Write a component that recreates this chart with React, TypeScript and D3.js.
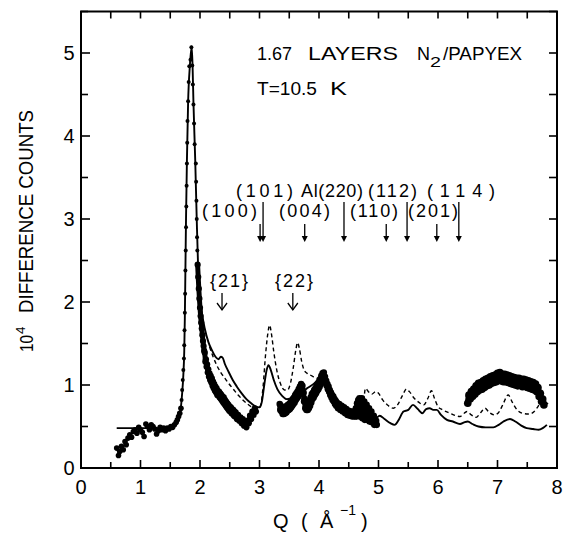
import React from 'react';
import * as d3 from 'd3';

// ---------- data ----------
const xTickLabels = [0, 1, 2, 3, 4, 5, 6, 7, 8];
const yTickLabels = [0, 1, 2, 3, 4, 5];

// solid calculated curve [Q, counts]
const fitSolid: [number, number][] = [
  [0.6, 0.48], [1.0, 0.48], [1.4, 0.48], [1.5, 0.49], [1.56, 0.51], [1.6, 0.54], [1.63, 0.58],
  [1.66, 0.66], [1.68, 0.74], [1.7, 0.9], [1.72, 1.12], [1.735, 1.4], [1.745, 1.8], [1.755, 2.4],
  [1.765, 3.0], [1.78, 3.7], [1.8, 4.4], [1.83, 4.85], [1.86, 5.08], [1.875, 4.85], [1.89, 4.4],
  [1.92, 3.7], [1.945, 3.0], [1.965, 2.5], [1.99, 2.15], [2.03, 1.88], [2.08, 1.68], [2.14, 1.52],
  [2.2, 1.42], [2.26, 1.34], [2.31, 1.31], [2.35, 1.34], [2.38, 1.33], [2.42, 1.25], [2.48, 1.16],
  [2.55, 1.06], [2.62, 0.98], [2.7, 0.9], [2.78, 0.83], [2.86, 0.78], [2.94, 0.74], [3.0, 0.73],
  [3.04, 0.8], [3.08, 1.0], [3.12, 1.18], [3.15, 1.24], [3.19, 1.18], [3.24, 1.06], [3.3, 0.95],
  [3.38, 0.87], [3.46, 0.83], [3.55, 0.84], [3.63, 0.87], [3.72, 0.92], [3.82, 0.97], [3.92, 1.02],
  [4.0, 1.08], [4.06, 1.14], [4.1, 1.08], [4.16, 0.98], [4.24, 0.88], [4.35, 0.78], [4.48, 0.7],
  [4.62, 0.64], [4.75, 0.6], [4.88, 0.58], [4.96, 0.6], [5.02, 0.63], [5.1, 0.59], [5.2, 0.54],
  [5.27, 0.52], [5.34, 0.58], [5.42, 0.68], [5.5, 0.7], [5.58, 0.76], [5.66, 0.71], [5.74, 0.66],
  [5.8, 0.71], [5.86, 0.72], [5.92, 0.7], [5.98, 0.7], [6.05, 0.64], [6.15, 0.58], [6.25, 0.56],
  [6.37, 0.53], [6.44, 0.55], [6.5, 0.56], [6.58, 0.53], [6.68, 0.5], [6.8, 0.49], [6.93, 0.49],
  [7.02, 0.52], [7.1, 0.56], [7.21, 0.59], [7.3, 0.56], [7.4, 0.51], [7.49, 0.48], [7.6, 0.47],
  [7.69, 0.46], [7.76, 0.48], [7.83, 0.52],
];

// dashed calculated curve
const fitDashed: [number, number][] = [
  [2.16, 1.46], [2.22, 1.34], [2.28, 1.24], [2.35, 1.15], [2.42, 1.08], [2.48, 1.02], [2.56, 0.95],
  [2.64, 0.88], [2.72, 0.82], [2.8, 0.77], [2.88, 0.73], [2.96, 0.71], [3.02, 0.76], [3.06, 0.98],
  [3.1, 1.35], [3.14, 1.62], [3.17, 1.72], [3.2, 1.62], [3.24, 1.4], [3.29, 1.18], [3.35, 1.02],
  [3.42, 0.94], [3.47, 0.94], [3.52, 1.02], [3.57, 1.22], [3.61, 1.42], [3.64, 1.51], [3.67, 1.44],
  [3.71, 1.28], [3.75, 1.18], [3.8, 1.14], [3.88, 1.11], [3.96, 1.08], [4.02, 1.1], [4.06, 1.13],
  [4.1, 1.07], [4.16, 0.97], [4.24, 0.87], [4.35, 0.78], [4.48, 0.71], [4.6, 0.67], [4.7, 0.68],
  [4.75, 0.8], [4.78, 0.96], [4.83, 0.92], [4.89, 0.89], [4.95, 0.92], [5.0, 0.9], [5.07, 0.82],
  [5.15, 0.76], [5.25, 0.72], [5.32, 0.76], [5.4, 0.87], [5.47, 0.95], [5.52, 0.92], [5.6, 0.84],
  [5.68, 0.79], [5.76, 0.76], [5.83, 0.84], [5.89, 0.93], [5.94, 0.84], [6.0, 0.74], [6.08, 0.7],
  [6.2, 0.66], [6.3, 0.63], [6.37, 0.62], [6.44, 0.66], [6.49, 0.68], [6.56, 0.64], [6.64, 0.61],
  [6.72, 0.67], [6.79, 0.72], [6.86, 0.67], [6.95, 0.64], [7.03, 0.68], [7.1, 0.78], [7.18, 0.88],
  [7.25, 0.79], [7.33, 0.7], [7.42, 0.66], [7.52, 0.65], [7.6, 0.67], [7.68, 0.74], [7.76, 0.82],
  [7.8, 0.8], [7.85, 0.77],
];

// measured points: low-Q plateau and main peak
const dataLow: [number, number][] = [
  [0.6, 0.24], [0.63, 0.15], [0.65, 0.2], [0.68, 0.26], [0.71, 0.22], [0.74, 0.32], [0.76, 0.28],
  [0.79, 0.36], [0.82, 0.4], [0.85, 0.37], [0.88, 0.44], [0.91, 0.46], [0.94, 0.42], [0.97, 0.49],
  [1.0, 0.46], [1.03, 0.43], [1.06, 0.38], [1.09, 0.53], [1.12, 0.5], [1.15, 0.46], [1.18, 0.52],
  [1.21, 0.5], [1.24, 0.47], [1.27, 0.41], [1.3, 0.45], [1.33, 0.49], [1.36, 0.46], [1.39, 0.48],
  [1.42, 0.45], [1.45, 0.48], [1.48, 0.47], [1.51, 0.5], [1.54, 0.49], [1.57, 0.52], [1.6, 0.55],
  [1.62, 0.58], [1.64, 0.62], [1.66, 0.66], [1.68, 0.72],
];
const dataPeak: [number, number][] = [
  [1.69, 0.82], [1.7, 0.94], [1.71, 1.06], [1.72, 1.18], [1.73, 1.32], [1.735, 1.48], [1.74, 1.66],
  [1.745, 1.87], [1.75, 2.1], [1.755, 2.38], [1.76, 2.62], [1.765, 2.9], [1.77, 3.15], [1.775, 3.4],
  [1.78, 3.67], [1.785, 3.92], [1.79, 4.18], [1.8, 4.42], [1.81, 4.65], [1.82, 4.84], [1.84, 4.92],
  [1.855, 5.07], [1.87, 4.85], [1.88, 4.62], [1.89, 4.38], [1.9, 4.15], [1.91, 3.9], [1.93, 3.67],
  [1.935, 3.45], [1.94, 3.22], [1.945, 3.0], [1.95, 2.78], [1.955, 2.62],
];
// dense measured bands
const dataBand1: [number, number][] = [
  [1.96, 2.45], [1.97, 2.3], [1.98, 2.16], [1.99, 2.04], [2.0, 1.93], [2.01, 1.83], [2.02, 1.75],
  [2.03, 1.68], [2.04, 1.6], [2.05, 1.53], [2.06, 1.47], [2.07, 1.41], [2.08, 1.39], [2.09, 1.28],
  [2.1, 1.31], [2.11, 1.22], [2.12, 1.25], [2.13, 1.15], [2.14, 1.19], [2.15, 1.1], [2.16, 1.14],
  [2.17, 1.06], [2.18, 1.11], [2.19, 1.03], [2.2, 1.08], [2.21, 0.99], [2.22, 1.04], [2.23, 0.96],
  [2.24, 1.01], [2.25, 0.93], [2.26, 0.98], [2.27, 0.91], [2.28, 0.96], [2.29, 0.88], [2.3, 0.93],
  [2.31, 0.87], [2.32, 0.92], [2.33, 0.85], [2.34, 0.9], [2.35, 0.83], [2.36, 0.88], [2.37, 0.81],
  [2.38, 0.86], [2.39, 0.79], [2.4, 0.85], [2.41, 0.77], [2.42, 0.82], [2.43, 0.75], [2.44, 0.8],
  [2.45, 0.73], [2.46, 0.78], [2.47, 0.71], [2.48, 0.76], [2.49, 0.69], [2.5, 0.74], [2.51, 0.68],
  [2.52, 0.73], [2.53, 0.66], [2.54, 0.71], [2.55, 0.65], [2.56, 0.7], [2.57, 0.63], [2.58, 0.68],
  [2.59, 0.62], [2.6, 0.67], [2.62, 0.59], [2.64, 0.64], [2.66, 0.57], [2.68, 0.61], [2.7, 0.54],
  [2.72, 0.59], [2.74, 0.51], [2.76, 0.56], [2.78, 0.49], [2.8, 0.57], [2.82, 0.54], [2.84, 0.63],
  [2.86, 0.59], [2.88, 0.68], [2.9, 0.64], [2.92, 0.72], [2.94, 0.68],
];
const dataBand2: [number, number][] = [
  [3.34, 0.77], [3.35, 0.7], [3.36, 0.75], [3.37, 0.68], [3.38, 0.72], [3.39, 0.65], [3.4, 0.71],
  [3.41, 0.65], [3.42, 0.72], [3.43, 0.66], [3.44, 0.73], [3.45, 0.67], [3.46, 0.75], [3.47, 0.69],
  [3.48, 0.76], [3.49, 0.7], [3.5, 0.77], [3.51, 0.71], [3.52, 0.79], [3.53, 0.73], [3.54, 0.81],
  [3.55, 0.75], [3.56, 0.83], [3.57, 0.77], [3.58, 0.85], [3.59, 0.79], [3.6, 0.88], [3.61, 0.82],
  [3.62, 0.9], [3.63, 0.84], [3.64, 0.92], [3.65, 0.86], [3.66, 0.95], [3.67, 0.89], [3.68, 0.98],
  [3.69, 0.92], [3.7, 1.01], [3.71, 0.95], [3.72, 0.99], [3.73, 0.9], [3.74, 0.91], [3.75, 0.8],
  [3.76, 0.83], [3.77, 0.72], [3.78, 0.77], [3.79, 0.7], [3.8, 0.76], [3.81, 0.7], [3.82, 0.77],
  [3.83, 0.72], [3.84, 0.81], [3.85, 0.75], [3.86, 0.85], [3.87, 0.79], [3.88, 0.89], [3.89, 0.83],
  [3.9, 0.91], [3.91, 0.85], [3.92, 0.94], [3.93, 0.88], [3.94, 0.96], [3.95, 0.9], [3.96, 0.99],
  [3.97, 0.93], [3.98, 1.01], [3.99, 0.95], [4.0, 1.04], [4.01, 0.98], [4.02, 1.07], [4.03, 1.01],
  [4.04, 1.11], [4.05, 1.05], [4.06, 1.14], [4.07, 1.08], [4.08, 1.15], [4.09, 1.09], [4.1, 1.1],
  [4.11, 1.04], [4.12, 1.05], [4.13, 0.99], [4.14, 1.01], [4.15, 0.95], [4.16, 0.98], [4.17, 0.92],
  [4.18, 0.94], [4.19, 0.88], [4.2, 0.91], [4.21, 0.85], [4.22, 0.88], [4.23, 0.82], [4.24, 0.86],
  [4.25, 0.8], [4.26, 0.83], [4.27, 0.77], [4.28, 0.81], [4.29, 0.75], [4.3, 0.79], [4.32, 0.72],
  [4.34, 0.77], [4.36, 0.7], [4.38, 0.75], [4.4, 0.68], [4.42, 0.73], [4.44, 0.66], [4.46, 0.71],
  [4.48, 0.64], [4.5, 0.69], [4.52, 0.63], [4.54, 0.68], [4.56, 0.62], [4.58, 0.68], [4.6, 0.62],
  [4.62, 0.72], [4.63, 0.62], [4.64, 0.78], [4.65, 0.66], [4.66, 0.82], [4.67, 0.7], [4.68, 0.84],
  [4.69, 0.62], [4.7, 0.76], [4.71, 0.66], [4.72, 0.84], [4.73, 0.6], [4.74, 0.74], [4.75, 0.64],
  [4.76, 0.8], [4.77, 0.58], [4.78, 0.7], [4.79, 0.64], [4.8, 0.76], [4.81, 0.58], [4.82, 0.68],
  [4.83, 0.62], [4.84, 0.72], [4.85, 0.56], [4.86, 0.66], [4.87, 0.6], [4.88, 0.68], [4.89, 0.55],
  [4.9, 0.62], [4.91, 0.57], [4.92, 0.63], [4.93, 0.52], [4.94, 0.58], [4.95, 0.54], [4.96, 0.57],
  [4.97, 0.52],
];
const dataBand3: [number, number][] = [
  [6.5, 0.78], [6.52, 0.88], [6.54, 0.83], [6.56, 0.92], [6.58, 0.86], [6.6, 0.95], [6.62, 0.89],
  [6.64, 0.99], [6.66, 0.92], [6.68, 1.02], [6.7, 0.94], [6.72, 1.03], [6.74, 0.95], [6.76, 1.05],
  [6.78, 0.97], [6.8, 1.07], [6.82, 0.99], [6.84, 1.08], [6.86, 1.0], [6.88, 1.1], [6.9, 1.02],
  [6.92, 1.11], [6.94, 1.03], [6.96, 1.12], [6.98, 1.04], [7.0, 1.14], [7.02, 1.06], [7.04, 1.15],
  [7.06, 1.05], [7.08, 1.13], [7.1, 1.04], [7.12, 1.13], [7.14, 1.04], [7.16, 1.12], [7.18, 1.03],
  [7.2, 1.11], [7.22, 1.02], [7.24, 1.1], [7.26, 1.01], [7.28, 1.09], [7.3, 1.0], [7.32, 1.08],
  [7.34, 0.99], [7.36, 1.08], [7.38, 1.0], [7.4, 1.07], [7.42, 0.98], [7.44, 1.07], [7.46, 0.99],
  [7.48, 1.06], [7.5, 0.97], [7.52, 1.05], [7.54, 0.96], [7.56, 1.04], [7.58, 0.95], [7.6, 1.03],
  [7.62, 0.94], [7.64, 1.01], [7.66, 0.92], [7.68, 0.97], [7.7, 0.86], [7.72, 0.9], [7.74, 0.8],
  [7.76, 0.83], [7.78, 0.76],
];

// Bragg reflections (Q positions of arrows)
const reflectionLabels = ['(100)', '(101)', '(004)', 'Al(220)', '(110)', '(112)', '(201)', '(114)'];
const reflectionQ = [3.01, 3.06, 3.76, 4.42, 5.13, 5.48, 5.98, 6.35];
const reflectionLong = [false, true, false, true, false, true, false, true];
const rodLabels = ['{21}', '{22}'];
const rodQ = [2.37, 3.56];

// ---------- chart ----------
const FONT = "'Liberation Sans', Arial, Helvetica, sans-serif";

export default function App() {
  const x = d3.scaleLinear().domain([0, 8]).range([81, 557]);
  const y = d3.scaleLinear().domain([0, 5.5]).range([468, 11.5]);
  const left = x(0), right = x(8), top = y(5.5), bottom = y(0);

  const line = d3.line<[number, number]>()
    .x((d) => x(d[0]))
    .y((d) => y(d[1]))
    .curve(d3.curveMonotoneX);
  const zigzag = d3.line<[number, number]>()
    .x((d) => x(d[0]))
    .y((d) => y(d[1]));

  const halfX = d3.range(0, 8.001, 0.5);
  const halfY = d3.range(0, 5.501, 0.5);
  const isInt = (v: number) => Math.abs(v - Math.round(v)) < 1e-6;

  // label layout (left x, width, baseline) in px for the reflection text
  const refLayout: Record<string, [number, number, number]> = {
    '(100)': [202, 55, 217],
    '(101)': [236, 57, 197],
    '(004)': [279, 51, 217],
    'Al(220)': [301, 62, 197],
    '(110)': [350, 48, 217],
    '(112)': [368, 49, 197],
    '(201)': [408, 50, 217],
    '(114)': [427, 68, 197],
  };

  const bands: { pts: [number, number][]; r: number; fill: boolean }[] = [
    { pts: dataLow, r: 2.8, fill: false },
    { pts: dataPeak, r: 2, fill: false },
    { pts: dataBand1, r: 3.1, fill: true },
    { pts: dataBand2, r: 3.3, fill: true },
    { pts: dataBand3, r: 3.8, fill: true },
  ];

  return (
    <svg
      width={571}
      height={535}
      style={{ position: 'absolute', left: 0, top: 0, background: '#fff' }}
      fontFamily={FONT}
    >
      <rect x={0} y={0} width={571} height={535} fill="#fff" />

      {/* curves */}
      <path d={line(fitSolid) || ''} fill="none" stroke="#000" strokeWidth={1.9} />
      <path d={line(fitDashed) || ''} fill="none" stroke="#000" strokeWidth={1.4} strokeDasharray="4,3" />

      {/* measured points */}
      {bands.map((b, bi) => (
        <g key={'b' + bi}>
          {b.fill && (
            <path d={zigzag(b.pts) || ''} fill="none" stroke="#000" strokeWidth={b.r * 1.6}
              strokeLinejoin="round" strokeLinecap="round" />
          )}
          {b.pts.map((d, i) => (
            <circle key={bi + '-' + i} cx={x(d[0])} cy={y(d[1])} r={b.r} fill="#000" />
          ))}
        </g>
      ))}

      {/* frame */}
      <rect x={left} y={top} width={right - left} height={bottom - top} fill="none" stroke="#000" strokeWidth={2} />

      {/* ticks */}
      {halfX.map((v) => (
        <g key={'tx' + v}>
          <line x1={x(v)} x2={x(v)} y1={bottom} y2={bottom - (isInt(v) ? 8 : 6)} stroke="#000" strokeWidth={1.6} />
          <line x1={x(v)} x2={x(v)} y1={top} y2={top + 7} stroke="#000" strokeWidth={1.6} />
        </g>
      ))}
      {halfY.map((v) => (
        <g key={'ty' + v}>
          <line x1={left} x2={left + (isInt(v) ? 9 : 7)} y1={y(v)} y2={y(v)} stroke="#000" strokeWidth={1.6} />
          <line x1={right} x2={right - 8} y1={y(v)} y2={y(v)} stroke="#000" strokeWidth={1.6} />
        </g>
      ))}

      {/* tick labels */}
      {xTickLabels.map((v) => (
        <text key={'xl' + v} x={x(v)} y={494} fontSize={20} textAnchor="middle">{v}</text>
      ))}
      {yTickLabels.map((v) => (
        <text key={'yl' + v} x={69} y={y(v) + 7} fontSize={20} textAnchor="middle">{v}</text>
      ))}

      {/* axis titles */}
      <g transform="translate(33,0) rotate(-90)">
        <text x={-352} y={0} fontSize={19} textLength={17} lengthAdjust="spacingAndGlyphs">10</text>
        <text x={-334} y={-8} fontSize={13.5}>4</text>
        <text x={-313} y={0} fontSize={19.5} textLength={203} lengthAdjust="spacingAndGlyphs">DIFFERENCE COUNTS</text>
      </g>
      <g fontSize={20}>
        <text x={273} y={528}>Q</text>
        <text x={301} y={528}>(</text>
        <text x={320} y={528}>Å</text>
        <text x={340} y={515} fontSize={14}>−1</text>
        <text x={361} y={528}>)</text>
      </g>

      {/* title annotations */}
      <g fontSize={19}>
        <text x={257} y={60} textLength={35} lengthAdjust="spacingAndGlyphs">1.67</text>
        <text x={308} y={60} textLength={90} lengthAdjust="spacingAndGlyphs">LAYERS</text>
        <text x={417} y={60} textLength={13} lengthAdjust="spacingAndGlyphs">N</text>
        <text x={430} y={67} fontSize={14} textLength={11} lengthAdjust="spacingAndGlyphs">2</text>
        <text x={443} y={60} textLength={79} lengthAdjust="spacingAndGlyphs">/PAPYEX</text>
        <text x={257} y={95} textLength={60} lengthAdjust="spacingAndGlyphs">T=10.5</text>
        <text x={330} y={95} textLength={17} lengthAdjust="spacingAndGlyphs">K</text>
      </g>

      {/* reflection arrows */}
      {reflectionLabels.map((lab, i) => {
        const ax = x(reflectionQ[i]);
        const tip = 242;
        const y0 = reflectionLong[i] ? 202 : 224;
        const [lx, lw, ly] = refLayout[lab];
        return (
          <g key={'r' + i}>
            <line x1={ax} x2={ax} y1={y0} y2={tip - 4} stroke="#000" strokeWidth={1.3} />
            <path d={`M${ax - 3},${tip - 6} L${ax + 3},${tip - 6} L${ax},${tip} Z`} fill="#000" />
            <text x={lx} y={ly} fontSize={18} textLength={lw} lengthAdjust="spacing">{lab}</text>
          </g>
        );
      })}

      {/* rod labels */}
      {rodLabels.map((lab, i) => {
        const ax = x(rodQ[i]);
        const tx = i === 0 ? 210 : 275;
        return (
          <g key={'rod' + i}>
            <text x={tx} y={287} fontSize={18} textLength={38} lengthAdjust="spacing">{lab}</text>
            <line x1={ax} x2={ax} y1={293} y2={310} stroke="#000" strokeWidth={1.3} />
            <path d={`M${ax - 5},${303} L${ax},${310} L${ax + 5},${303}`} fill="none" stroke="#000" strokeWidth={1.3} />
          </g>
        );
      })}
    </svg>
  );
}
